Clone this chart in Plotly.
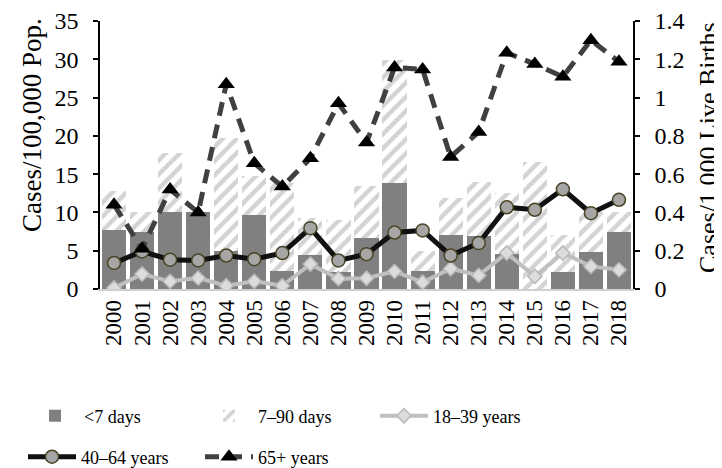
import plotly.graph_objects as go

years = [str(y) for y in range(2000, 2019)]

# Infant cases (stacked bars, left-axis units)
lt7_days = [7.7, 7.5, 10.1, 10.1, 5.0, 9.7, 2.3, 4.5, 2.2, 6.6, 13.8, 2.4, 7.0, 6.9, 4.6, 0.0, 2.2, 4.8, 7.5]
d7_90_days = [5.1, 2.5, 7.7, 0.0, 14.7, 5.0, 11.5, 4.75, 6.8, 6.8, 16.1, 2.5, 4.9, 7.1, 7.9, 16.6, 4.9, 5.3, 2.6]

# Adult age groups (lines, right-axis units)
age_18_39 = [0.005, 0.078, 0.040, 0.057, 0.017, 0.040, 0.017, 0.130, 0.054, 0.056,
             0.092, 0.035, 0.106, 0.071, 0.188, 0.066, 0.188, 0.118, 0.100]
age_40_64 = [0.136, 0.196, 0.153, 0.149, 0.175, 0.156, 0.188, 0.318, 0.149, 0.182,
             0.295, 0.306, 0.175, 0.240, 0.427, 0.414, 0.521, 0.396, 0.466]
age_65_plus = [0.44, 0.21, 0.52, 0.40, 1.07, 0.657, 0.535, 0.683, 0.97, 0.765,
               1.157, 1.147, 0.69, 0.82, 1.234, 1.175, 1.109, 1.30, 1.187]

FONT = "Liberation Serif, Times New Roman, serif"

fig = go.Figure()
fig.add_trace(go.Bar(x=years, y=lt7_days, name="&lt;7 days",
                     marker=dict(color="#808080", line=dict(width=0)),
                     legend="legend2"))
fig.add_trace(go.Bar(x=years, y=d7_90_days, name="7–90 days",
                     marker=dict(color="white", line=dict(width=0),
                                 pattern=dict(shape="/", fgcolor="#a8a8a8", bgcolor="white",
                                              size=10, solidity=0.45)),
                     legend="legend3"))
fig.add_trace(go.Scatter(x=years, y=age_18_39, name="18–39 years", yaxis="y2",
                         mode="lines+markers",
                         line=dict(color="#c0c0c0", width=4),
                         marker=dict(symbol="diamond", size=11, color="#dcdcdc",
                                     line=dict(color="#b8b8b8", width=1.5)),
                         legend="legend4"))
fig.add_trace(go.Scatter(x=years, y=age_40_64, name="40–64 years", yaxis="y2",
                         mode="lines+markers",
                         line=dict(color="#111111", width=5),
                         marker=dict(symbol="circle", size=13, color="#a6a6a6",
                                     line=dict(color="#4a4426", width=1.5)),
                         legend="legend5"))
fig.add_trace(go.Scatter(x=years, y=age_65_plus, name="65+ years", yaxis="y2",
                         mode="lines+markers",
                         line=dict(color="#404040", width=5, dash="14px,9px"),
                         marker=dict(symbol="triangle-up", size=15, color="black",
                                     line=dict(width=0)),
                         legend="legend6"))

# page adds an 8px offset; targets below are in screen pixels
OFF = 8
W, H = 722, 468
ML, MT = 100 - OFF, 21 - OFF
PW, PH = 533, 268
MR, MB = W - ML - PW, H - MT - PH


def px_to_paper(xp, yp):
    xp -= OFF
    yp -= OFF
    return (xp - ML) / PW, (MT + PH - yp) / PH


def leg(xp, yp):
    x, y = px_to_paper(xp, yp)
    return dict(orientation="h", x=x, xanchor="left", y=y, yanchor="middle",
                itemwidth=48, font=dict(family=FONT, size=18, color="black"),
                bgcolor="rgba(0,0,0,0)", visible=True)


tx1, ty1 = px_to_paper(32, 125)
tx2, ty2 = px_to_paper(708, 148)

fig.update_layout(
    width=W, height=H,
    margin=dict(l=ML, r=MR, t=MT, b=MB, autoexpand=False),
    paper_bgcolor="white", plot_bgcolor="white",
    barmode="stack", bargap=0.14, showlegend=True,
    font=dict(family=FONT, color="black"),
    xaxis=dict(type="category", range=[-0.5, len(years) - 0.5], tickangle=-90,
               showline=True, linecolor="#d0d0d0",
               linewidth=1.5, ticks="", showgrid=False, tickmode="array",
               tickvals=years, ticktext=years,
               tickfont=dict(family=FONT, size=23, color="black")),
    yaxis=dict(range=[0, 35], dtick=5, showline=True, linecolor="black", linewidth=1.5,
               ticks="outside", ticklen=5, tickcolor="black", tickwidth=1.5,
               showgrid=False, zeroline=False, ticklabelstandoff=10,
               tickfont=dict(family=FONT, size=24, color="black")),
    yaxis2=dict(range=[0, 1.4], dtick=0.2, overlaying="y", side="right",
                showline=True, linecolor="black", linewidth=1.5,
                ticks="outside", ticklen=5, tickcolor="black", tickwidth=1.5,
                showgrid=False, zeroline=False, ticklabelstandoff=10,
                tickfont=dict(family=FONT, size=24, color="black")),
    legend2=leg(26, 416),
    legend3=leg(200, 416),
    legend4=leg(375, 416),
    legend5=leg(23, 457),
    legend6=leg(200, 457),
    annotations=[
        dict(text="Cases/100,000 Pop.", textangle=-90, xref="paper", yref="paper",
             x=tx1, y=ty1, xanchor="center", yanchor="middle", showarrow=False,
             font=dict(family=FONT, size=27, color="black")),
        dict(text="Cases/1.000 Live Births", textangle=-90, xref="paper", yref="paper",
             x=tx2, y=ty2, xanchor="center", yanchor="middle", showarrow=False,
             font=dict(family=FONT, size=26, color="black")),
    ],
)

fig.write_html("out.html")
